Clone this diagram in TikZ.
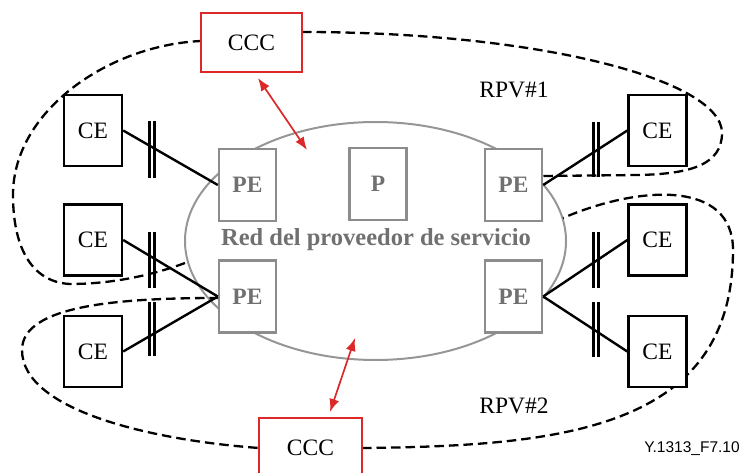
\documentclass[tikz,border=0pt]{standalone}
\usepackage{fontspec}
\setmainfont{Liberation Serif}
\setsansfont{Liberation Sans}
\usetikzlibrary{arrows.meta}

\definecolor{rojo}{RGB}{220,40,40}
\definecolor{gris}{RGB}{140,140,140}
\definecolor{grisred}{RGB}{150,150,150}
\definecolor{gristxt}{RGB}{112,112,112}

% doble barra sobre un enlace
\newcommand{\corte}[3]{\draw[barra] (#1-2.3,#2) -- (#1-2.3,#3) (#1+2.3,#2) -- (#1+2.3,#3);}

\begin{document}
\begin{tikzpicture}[x=1pt, y=-1pt, inner sep=0,
    font=\fontsize{23.5}{26}\selectfont,
    ce/.style={draw, line width=2.4pt, minimum width=58pt, minimum height=71pt, fill=white},
    pe/.style={draw=gris, line width=2.4pt, minimum width=57pt, minimum height=72pt, fill=white,
      text=gristxt, font=\fontsize{23.5}{26}\selectfont\bfseries},
    ccc/.style={draw=rojo, line width=2.4pt, minimum height=59pt, fill=white},
    rpv/.style={dash pattern=on 9.5pt off 5pt, line width=2.3pt},
    enlace/.style={line width=2.4pt},
    barra/.style={line width=2.7pt},
    ctrl/.style={rojo, line width=1.7pt, {Latex[length=13pt,width=10pt]}-{Latex[length=13pt,width=10pt]}}]
  \useasboundingbox (0,0) rectangle (742,473);
  \clip (0,0) rectangle (742,473);

  % red del proveedor
  \draw[grisred, line width=2pt] (375.5,241) ellipse [x radius=190.5pt, y radius=119pt];
  \node[text=gristxt, font=\fontsize{24.5}{26}\selectfont\bfseries] (red) at (376,240) {Red del proveedor de servicio};

  % RPV#1 y RPV#2
  \draw[rpv] (185,263) .. controls (150,276) and (110,284) .. (70,284)
    .. controls (30,282) and (13,245) .. (13,195)
    .. controls (13,110) and (110,45) .. (201,41);
  \draw[rpv] (302,32) .. controls (540,32) and (722,80) .. (722,133)
    .. controls (722,165) and (690,174) .. (638,175) -- (543,176);
  \draw[rpv] (219,298) .. controls (120,298) and (22,305) .. (22,350)
    .. controls (22,410) and (150,440) .. (259,448);
  \draw[rpv] (362,448) .. controls (560,446) and (733,430) .. (733,250)
    .. controls (733,180) and (640,185) .. (563,218);

  \node[ccc, minimum width=101pt] (ccc1) at (251.5,42.5) {CCC};
  \node[ccc, minimum width=103pt] (ccc2) at (310.5,447.5) {CCC};
  \node (rpv1) at (514,90) {RPV\#1};
  \node (rpv2) at (514,406) {RPV\#2};

  \node[pe] (pe1) at (247.5,185) {PE};
  \node[pe] (p) at (378,184) {P};
  \node[pe] (pe2) at (513.5,185) {PE};
  \node[pe] (pe3) at (247.5,296.5) {PE};
  \node[pe] (pe4) at (513.5,296.5) {PE};

  \node[ce] (ce1) at (93,130.5) {CE};
  \node[ce] (ce2) at (93,240) {CE};
  \node[ce] (ce3) at (93,351.5) {CE};
  \node[ce] (ce4) at (657.5,130.5) {CE};
  \node[ce] (ce5) at (657.5,240) {CE};
  \node[ce] (ce6) at (657.5,351.5) {CE};

  \draw[enlace] (ce1.east) -- (pe1.west);
  \draw[enlace] (ce2.east) -- (pe3.west);
  \draw[enlace] (ce3.east) -- (pe3.west);
  \draw[enlace] (pe2.east) -- (ce4.west);
  \draw[enlace] (pe4.east) -- (ce5.west);
  \draw[enlace] (pe4.east) -- (ce6.west);

  \corte{152}{121}{178}
  \corte{152}{232}{288}
  \corte{152}{302}{356}
  \corte{596}{122}{177}
  \corte{596}{232}{288}
  \corte{596}{302}{357}

  % flechas de control
  \coordinate (c1) at (258,78);
  \coordinate (c2) at (307,150);
  \coordinate (c3) at (355,338);
  \coordinate (c4) at (330,412);
  \draw[ctrl] (c1) -- (c2);
  \draw[ctrl] (c3) -- (c4);

  \node[font=\sffamily\fontsize{15.5}{17}\selectfont] (fig) at (692,449) {Y.1313\_F7.10};
\end{tikzpicture}
\end{document}
